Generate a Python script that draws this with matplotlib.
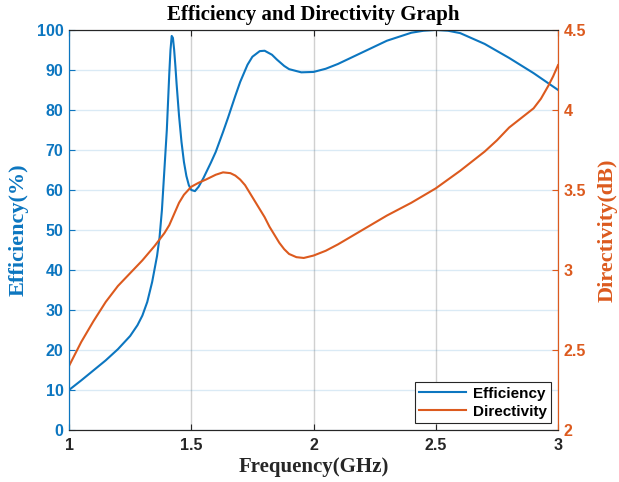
import matplotlib
matplotlib.use("Agg")
import matplotlib.pyplot as plt
import numpy as np

# frequency (GHz) and efficiency (%)
freq_eff = [1.0, 1.05, 1.1, 1.15, 1.2, 1.25, 1.28, 1.3, 1.32, 1.34, 1.36, 1.37, 1.38, 1.39,
            1.40, 1.405, 1.41, 1.415, 1.42, 1.425, 1.43, 1.435, 1.44, 1.45, 1.46, 1.47,
            1.48, 1.49, 1.50, 1.515, 1.53, 1.55, 1.58, 1.6, 1.63, 1.65, 1.68, 1.7, 1.73,
            1.75, 1.78, 1.8, 1.83, 1.85, 1.88, 1.9, 1.95, 2.0, 2.05, 2.1, 2.2, 2.3, 2.4,
            2.45, 2.5, 2.55, 2.6, 2.7, 2.8, 2.9, 3.0]
efficiency = [10, 12.4, 14.9, 17.4, 20.2, 23.5, 26.2, 28.6, 32, 37, 43.5, 48, 55, 65,
              75, 82, 89, 95, 98.5, 98, 95, 91, 86.5, 78.5, 72, 67,
              63.5, 61.2, 60, 59.7, 60.8, 63, 66.8, 69.5, 74.5, 78, 83.5, 87, 91.3,
              93.3, 94.7, 94.8, 93.8, 92.6, 91, 90.2, 89.4, 89.5, 90.3, 91.5, 94.4, 97.3, 99.3,
              99.8, 100, 99.8, 99.2, 96.5, 93, 89.2, 85]

# frequency (GHz) and directivity (dB)
freq_dir = [1.0, 1.05, 1.1, 1.15, 1.2, 1.25, 1.3, 1.35, 1.37, 1.39, 1.41, 1.43, 1.45,
            1.47, 1.5, 1.53, 1.56, 1.6, 1.63, 1.66, 1.68, 1.7, 1.72, 1.74, 1.76, 1.78,
            1.8, 1.82, 1.84, 1.86, 1.88, 1.9, 1.93, 1.96, 2.0, 2.05, 2.1, 2.2, 2.3, 2.4,
            2.5, 2.6, 2.7, 2.75, 2.8, 2.85, 2.9, 2.93, 2.96, 2.98, 3.0]
directivity = [2.4, 2.55, 2.68, 2.8, 2.9, 2.98, 3.06, 3.15, 3.19, 3.23, 3.28, 3.35, 3.42,
               3.47, 3.52, 3.545, 3.565, 3.595, 3.61, 3.605, 3.59, 3.565, 3.53, 3.48, 3.43,
               3.38, 3.33, 3.27, 3.22, 3.17, 3.13, 3.1, 3.08, 3.075, 3.09, 3.12, 3.16, 3.25,
               3.34, 3.42, 3.51, 3.62, 3.74, 3.81, 3.89, 3.95, 4.01, 4.07, 4.15, 4.21, 4.28]

blue = "#0C76C0"
orange = "#DC5A1E"

fig = plt.figure(figsize=(6.19, 4.82), dpi=100)
ax = fig.add_axes([0.1115, 0.1079, 0.79, 0.83])
ax2 = ax.twinx()

ax.plot(freq_eff, efficiency, color=blue, lw=1.5, label="Efficiency")
ax2.plot(freq_dir, directivity, color=orange, lw=1.5, label="Directivity")

ax.set_xlim(1, 3)
ax.set_ylim(0, 100)
ax2.set_ylim(2, 4.5)
ax.set_xticks([1, 1.5, 2, 2.5, 3])
ax.set_xticklabels(["1", "1.5", "2", "2.5", "3"])
ax.set_yticks(np.arange(0, 101, 10))
ax2.set_yticks([2, 2.5, 3, 3.5, 4, 4.5])
ax2.set_yticklabels(["2", "2.5", "3", "3.5", "4", "4.5"])

ax.yaxis.grid(True, color=blue, alpha=0.15, lw=1)
ax.xaxis.grid(True, color="#d0d0d0", lw=1)
ax.set_axisbelow(True)

tickfont = dict(family="Liberation Sans", weight="bold", size=11.5)
for lab in ax.get_xticklabels():
    lab.set_fontproperties(tickfont)
    lab.set_color("#262626")
for lab in ax.get_yticklabels():
    lab.set_fontproperties(tickfont)
    lab.set_color(blue)
for lab in ax2.get_yticklabels():
    lab.set_fontproperties(tickfont)
    lab.set_color(orange)

ax.tick_params(axis="x", direction="in", top=True, length=4, color="#262626", pad=6)
ax.tick_params(axis="y", direction="in", length=4, color=blue, pad=4)
ax2.tick_params(axis="y", direction="in", length=4, color=orange, pad=4)

for a in (ax, ax2):
    a.spines["top"].set_color("#262626")
    a.spines["bottom"].set_color("#262626")
    a.spines["left"].set_color(blue)
    a.spines["right"].set_color(orange)

ax.set_xlabel("Frequency(GHz)", family="Liberation Serif", weight="bold", size=15,
              color="#262626", labelpad=3)
ax.set_ylabel("Efficiency(%)", family="Liberation Serif", weight="bold", size=16,
              color=blue, labelpad=6)
ax2.set_ylabel("Directivity(dB)", family="Liberation Serif", weight="bold", size=16,
               color=orange, labelpad=8)
ax.set_title("Efficiency and Directivity Graph", family="Liberation Serif", weight="bold",
             size=15, color="black", pad=7)

h1, l1 = ax.get_legend_handles_labels()
h2, l2 = ax2.get_legend_handles_labels()
leg = ax2.legend(h1 + h2, l1 + l2, loc="lower right", fancybox=False, framealpha=1,
                 edgecolor="#262626", prop=dict(family="Liberation Sans", weight="bold", size=11),
                 handlelength=3.1, handletextpad=0.4, borderpad=0.3, labelspacing=0.25,
                 borderaxespad=0.45)
leg.get_frame().set_linewidth(0.8)

fig.savefig("out.png", dpi=100)
